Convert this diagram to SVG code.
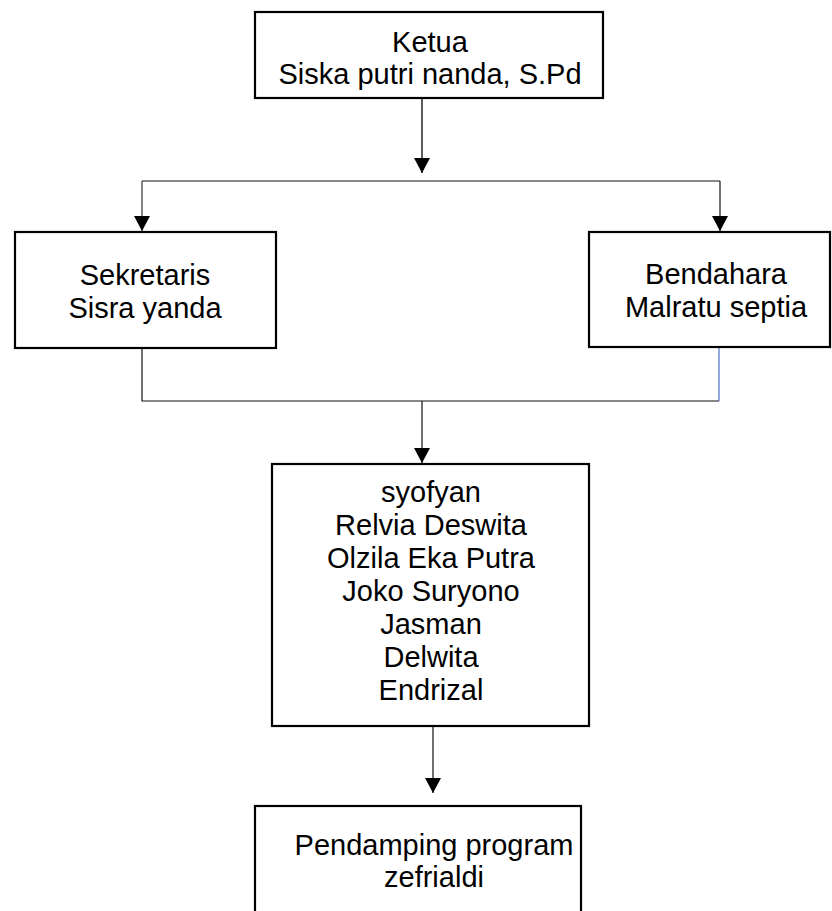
<svg xmlns="http://www.w3.org/2000/svg" width="832" height="911" viewBox="0 0 832 911">
<style>
.box{fill:#fff;stroke:#000;stroke-width:2.2}
.t{font-family:"Liberation Sans",Arial,sans-serif;font-size:29px;fill:#000;text-anchor:middle}
.c{fill:none;stroke:#111;stroke-width:1.2}
</style>
<defs>
<marker id="ah" viewBox="0 0 15 16" refX="15" refY="8" markerWidth="15" markerHeight="16" markerUnits="userSpaceOnUse" orient="auto">
<path d="M0,0 L15,8 L0,16 z" fill="#000"/>
</marker>
</defs>
<rect width="832" height="911" fill="#fff"/>
<g id="connectors">
<path class="c" d="M422,98 V173" marker-end="url(#ah)" style="stroke:#333;stroke-width:1.6"/>
<path class="c" d="M142,181 H720"/>
<path class="c" d="M142,181 V231" marker-end="url(#ah)" style="stroke:#333"/>
<path class="c" d="M720,181 V231" marker-end="url(#ah)"/>
<path class="c" d="M142,348 V401 H719"/>
<path class="c" d="M719,347 V401" style="stroke:#4a6fc4"/>
<path class="c" d="M422,401 V463" marker-end="url(#ah)" style="stroke:#333;stroke-width:1.4"/>
<path class="c" d="M433,726 V793" marker-end="url(#ah)"/>
</g>
<g id="ketua">
<rect class="box" x="255" y="12" width="348" height="86"/>
<text class="t" x="430" y="52">Ketua</text>
<text class="t" x="430" y="84">Siska putri nanda, S.Pd</text>
</g>
<g id="sekretaris">
<rect class="box" x="15" y="232" width="261" height="116"/>
<text class="t" x="145" y="285">Sekretaris</text>
<text class="t" x="145" y="318">Sisra yanda</text>
</g>
<g id="bendahara">
<rect class="box" x="589" y="232" width="241" height="115"/>
<text class="t" x="716" y="284">Bendahara</text>
<text class="t" x="716" y="317">Malratu septia</text>
</g>
<g id="anggota">
<rect class="box" x="272" y="464" width="317" height="262"/>
<text class="t" x="431" y="502">syofyan</text>
<text class="t" x="431" y="535">Relvia Deswita</text>
<text class="t" x="431" y="568">Olzila Eka Putra</text>
<text class="t" x="431" y="601">Joko Suryono</text>
<text class="t" x="431" y="634">Jasman</text>
<text class="t" x="431" y="667">Delwita</text>
<text class="t" x="431" y="700">Endrizal</text>
</g>
<g id="pendamping">
<rect class="box" x="255" y="806" width="326" height="120"/>
<text class="t" x="434" y="855">Pendamping program</text>
<text class="t" x="434" y="887">zefrialdi</text>
</g>
</svg>
